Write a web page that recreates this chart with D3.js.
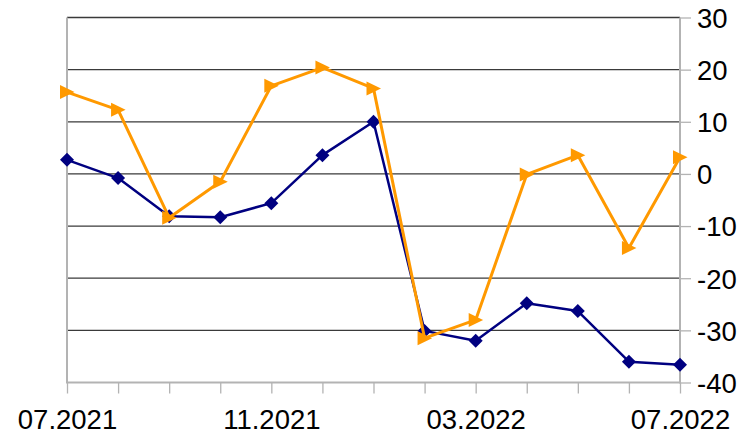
<!DOCTYPE html>
<html><head><meta charset="utf-8">
<script src="https://cdn.jsdelivr.net/npm/d3@7"></script>
<style>body{margin:0;background:#fff}svg{display:block}text{font-family:"Liberation Sans",Arial,sans-serif}</style>
</head><body><svg id="c" width="755" height="434"></svg>
<script>
const months = ["07.2021","08.2021","09.2021","10.2021","11.2021","12.2021","01.2022","02.2022","03.2022","04.2022","05.2022","06.2022","07.2022"];
const xLabels = ["07.2021","11.2021","03.2022","07.2022"];
const seriesBlue = [2.7,-0.8,-8.1,-8.3,-5.6,3.6,10.0,-30.1,-32.0,-24.8,-26.3,-36.0,-36.6];
const seriesOrange = [15.7,12.3,-8.4,-1.5,16.9,20.4,16.4,-31.5,-28.0,-0.1,3.6,-14.2,3.2];
const yTicks = [30,20,10,0,-10,-20,-30,-40];

const svg = d3.select("#c");
const L=67, R=680, T=17.5, B=382.5;
const x = d3.scalePoint().domain(months).range([L,R]);
const y = d3.scaleLinear().domain([-40,30]).range([B,T]);

svg.append("g").selectAll("line").data(yTicks.filter(v=>v>-40)).join("line")
  .attr("x1",L).attr("x2",R).attr("y1",d=>y(d)).attr("y2",d=>y(d))
  .attr("stroke","#3a3a3a").attr("stroke-width",1.3);

const axisCol="#b3b3b3";
svg.append("line").attr("x1",L).attr("x2",L).attr("y1",T).attr("y2",B+1).attr("stroke",axisCol).attr("stroke-width",2);
svg.append("line").attr("x1",R).attr("x2",R).attr("y1",T).attr("y2",B+1).attr("stroke",axisCol).attr("stroke-width",2);
svg.append("line").attr("x1",L).attr("x2",R).attr("y1",B).attr("y2",B).attr("stroke",axisCol).attr("stroke-width",2);

const xAxis = d3.axisBottom(x).tickSize(11).tickFormat(d=>xLabels.includes(d)?d:"");
const gx = svg.append("g").attr("transform",`translate(0,${B})`).call(xAxis);
gx.select(".domain").remove();
gx.selectAll(".tick line").attr("stroke",axisCol).attr("stroke-width",1.3);
gx.selectAll(".tick text").attr("font-size",27.5).attr("fill","#000").attr("dy",0).attr("y",46).attr("font-family","Liberation Sans, Arial, sans-serif");

const yAxis = d3.axisRight(y).tickValues(yTicks).tickSize(11).tickFormat(d=>String(d));
const gy = svg.append("g").attr("transform",`translate(${R},0)`).call(yAxis);
gy.select(".domain").remove();
gy.selectAll(".tick line").attr("stroke",axisCol).attr("stroke-width",1.3);
gy.selectAll(".tick text").attr("font-size",27.5).attr("fill","#000").attr("x",17).attr("dy","0.36em").attr("font-family","Liberation Sans, Arial, sans-serif");

const line = d3.line().x((d,i)=>x(months[i])).y(d=>y(d));

svg.append("path").datum(seriesBlue).attr("d",line).attr("fill","none").attr("stroke","#000080").attr("stroke-width",2.5).attr("stroke-linejoin","round");
svg.append("g").selectAll("path").data(seriesBlue).join("path")
  .attr("transform",(d,i)=>`translate(${x(months[i])},${y(d)})`)
  .attr("d","M0,-7L7,0L0,7L-7,0Z").attr("fill","#000080");

svg.append("path").datum(seriesOrange).attr("d",line).attr("fill","none").attr("stroke","#ff9900").attr("stroke-width",3).attr("stroke-linejoin","round");
svg.append("g").selectAll("path").data(seriesOrange).join("path")
  .attr("transform",(d,i)=>`translate(${x(months[i])},${y(d)})`)
  .attr("d","M-7,-7L7.5,0L-7,7Z").attr("fill","#ff9900");
</script></body></html>
